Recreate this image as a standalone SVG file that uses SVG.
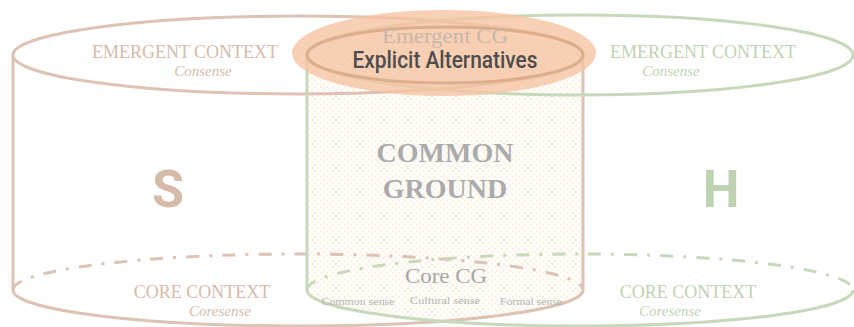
<svg xmlns="http://www.w3.org/2000/svg" width="854" height="327" viewBox="0 0 854 327">
  <style>
    .s-line { fill: none; stroke: #dcc3b4; stroke-width: 3; }
    .h-line { fill: none; stroke: #c6d9ba; stroke-width: 3; }
    .back { stroke-dasharray: 13 10 3 10; }
    .ctx { font-family: "Liberation Serif", "DejaVu Serif", serif; font-size: 18px; text-anchor: middle; }
    .sub { font-family: "Liberation Serif", "DejaVu Serif", serif; font-style: italic; font-size: 15px; text-anchor: middle; }
    .s-txt { fill: #d6bbaa; }
    .h-txt { fill: #bfd3b2; }
    .big { font-family: Roboto, "Liberation Sans", sans-serif; font-weight: bold; font-size: 52px; text-anchor: middle; }
    .cg { font-family: "Liberation Serif", "DejaVu Serif", serif; font-weight: bold; font-size: 28px; fill: #ababab; text-anchor: middle; }
    .core { font-family: "Liberation Serif", "DejaVu Serif", serif; font-size: 21px; fill: #a6a6a6; text-anchor: middle; }
    .tiny { font-family: "Liberation Serif", "DejaVu Serif", serif; font-size: 10.5px; fill: #b4b4b4; text-anchor: middle; }
  </style>
  <defs>
    <!-- pale diamond lattice for the shared region -->
    <pattern id="lattice" width="6" height="6" patternUnits="userSpaceOnUse">
      <path d="M0,0 L6,6 M6,0 L0,6" stroke="#fdeedd" stroke-width="0.9" fill="none"/>
    </pattern>
    <clipPath id="hClip">
      <path d="M307,55 A273,40 0 0 1 853,55 L853,290 A273,36 0 0 1 307,290 Z"/>
    </clipPath>
  </defs>

  <!-- overlap of the two cylinders -->
  <g id="overlap">
    <path d="M13,55 A285,39 0 0 1 583,55 L583,290 A285,36 0 0 1 13,290 Z" fill="url(#lattice)" clip-path="url(#hClip)"/>
  </g>

  <!-- speaker cylinder -->
  <g id="speaker">
    <ellipse class="s-line" cx="298" cy="55" rx="285" ry="39"/>
    <line class="s-line" x1="13" y1="55" x2="13" y2="290"/>
    <line class="s-line" x1="583" y1="55" x2="583" y2="290"/>
    <path class="s-line back" d="M13,290 A285,36 0 0 1 583,290"/>
    <path class="s-line" d="M583,290 A285,36 0 0 1 13,290"/>
  </g>

  <!-- hearer cylinder -->
  <g id="hearer">
    <ellipse class="h-line" cx="580" cy="55" rx="273" ry="40"/>
    <line class="h-line" x1="307" y1="55" x2="307" y2="290"/>
    <path class="h-line back" d="M307,290 A273,36 0 0 1 853,290"/>
    <path class="h-line" d="M853,290 A273,36 0 0 1 307,290"/>
  </g>

  <!-- emergent common ground highlight -->
  <g id="emergent-cg">
    <ellipse cx="444" cy="53" rx="152" ry="43" fill="#f6c3a2" opacity="0.78"/>
    <ellipse cx="445" cy="55" rx="138" ry="28" fill="none" stroke="#dcae8c" stroke-width="3"/>
    <text x="445" y="43" font-family="Liberation Serif, DejaVu Serif, serif" font-size="22" fill="#c9b6a8" text-anchor="middle" textLength="126" lengthAdjust="spacingAndGlyphs">Emergent CG</text>
    <text x="445" y="68" font-family="Roboto, Liberation Sans, sans-serif" font-weight="500" font-size="23" fill="#4d4d4d" text-anchor="middle" textLength="185" lengthAdjust="spacingAndGlyphs">Explicit Alternatives</text>
  </g>

  <!-- labels, speaker side -->
  <g id="s-labels">
    <text class="ctx s-txt" x="185" y="58">EMERGENT CONTEXT</text>
    <text class="sub s-txt" x="203" y="76">Consense</text>
    <text class="big s-txt" x="168" y="207">S</text>
    <text class="ctx s-txt" x="202" y="298">CORE CONTEXT</text>
    <text class="sub s-txt" x="220" y="316">Coresense</text>
  </g>

  <!-- labels, hearer side -->
  <g id="h-labels">
    <text class="ctx h-txt" x="703" y="58">EMERGENT CONTEXT</text>
    <text class="sub h-txt" x="671" y="76">Consense</text>
    <text class="big h-txt" x="721" y="207">H</text>
    <text class="ctx h-txt" x="688" y="298">CORE CONTEXT</text>
    <text class="sub h-txt" x="670" y="316">Coresense</text>
  </g>

  <!-- shared labels -->
  <g id="common-ground">
    <text class="cg" x="445" y="162">COMMON</text>
    <text class="cg" x="445" y="198">GROUND</text>
    <text class="core" x="446" y="283" textLength="82" lengthAdjust="spacingAndGlyphs">Core CG</text>
    <text class="tiny" x="358" y="305" textLength="73" lengthAdjust="spacingAndGlyphs">Common sense</text>
    <text class="tiny" x="445" y="304" textLength="70" lengthAdjust="spacingAndGlyphs">Cultural sense</text>
    <text class="tiny" x="531" y="305" textLength="62" lengthAdjust="spacingAndGlyphs">Formal sense</text>
  </g>
</svg>
